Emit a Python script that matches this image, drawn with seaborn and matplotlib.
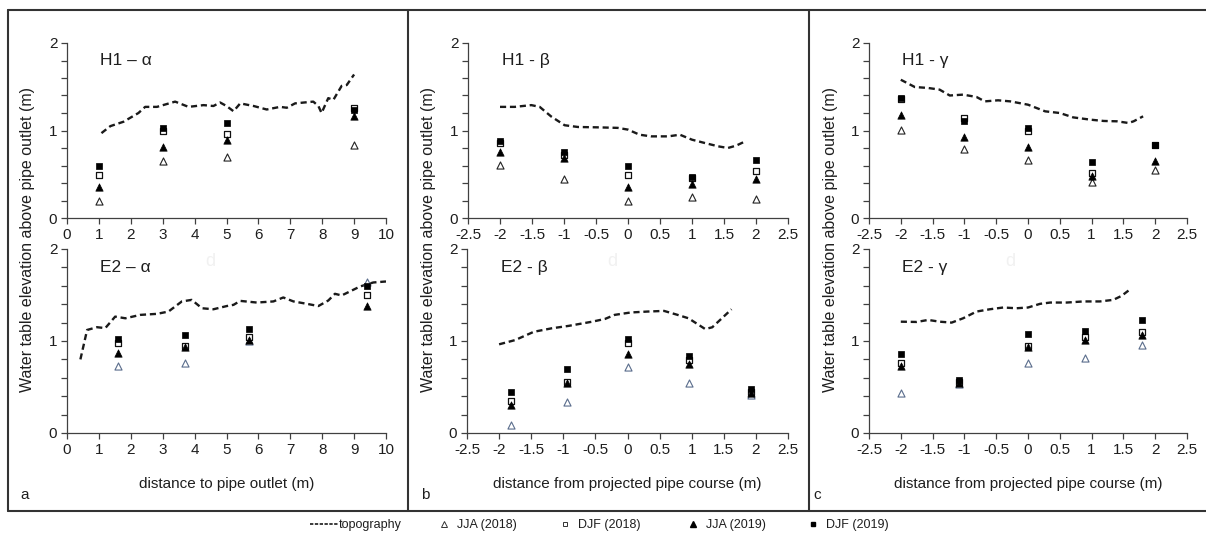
import numpy as np
import pandas as pd
import matplotlib
matplotlib.use("Agg")
import matplotlib.pyplot as plt
import seaborn as sns
from matplotlib.ticker import MultipleLocator, FuncFormatter
from matplotlib.lines import Line2D

sns.set_style("white")
plt.rcParams["font.family"] = ["Liberation Sans", "DejaVu Sans"]

# ---------------- data ----------------
# H1 - alpha (distance to pipe outlet)
h1a_x = [1, 3, 5, 9]
h1a_jja18 = [0.19, 0.655, 0.70, 0.84]
h1a_djf18 = [0.49, 0.99, 0.96, 1.257]
h1a_jja19 = [0.355, 0.81, 0.895, 1.17]
h1a_djf19 = [0.60, 1.03, 1.086, 1.23]
h1a_topo_x = [1.08, 1.36, 1.77, 2.24, 2.45, 2.82, 3.39, 3.81, 4.28, 4.59, 4.8, 5.0, 5.22,
              5.43, 5.85, 6.26, 6.68, 6.89, 7.15, 7.72, 7.88, 7.98, 8.19, 8.35, 8.61, 8.77, 9.0]
h1a_topo_y = [0.97, 1.05, 1.10, 1.20, 1.27, 1.27, 1.33, 1.27, 1.29, 1.28, 1.32, 1.28, 1.22,
              1.31, 1.28, 1.24, 1.27, 1.26, 1.31, 1.33, 1.28, 1.20, 1.37, 1.35, 1.51, 1.52, 1.64]

# E2 - alpha
e2a_x = [1.6, 3.7, 5.7, 9.4]
e2a_jja18 = [0.727, 0.756, 1.0, 1.645]
e2a_djf18 = [0.975, 0.945, 1.047, 1.50]
e2a_jja19 = [0.865, 0.94, 1.01, 1.38]
e2a_djf19 = [1.02, 1.07, 1.127, 1.60]
e2a_topo_x = [0.42, 0.63, 0.94, 1.2, 1.51, 1.83, 2.3, 2.82, 3.18, 3.6, 3.91, 4.23, 4.59, 5.01,
              5.22, 5.43, 5.95, 6.47, 6.78, 7.1, 7.52, 7.88, 8.19, 8.4, 8.61, 9.19, 9.6, 10.0]
e2a_topo_y = [0.80, 1.12, 1.15, 1.14, 1.265, 1.247, 1.284, 1.295, 1.32, 1.43, 1.447, 1.356, 1.345,
              1.38, 1.393, 1.436, 1.418, 1.43, 1.473, 1.43, 1.404, 1.38, 1.44, 1.513, 1.495,
              1.593, 1.636, 1.647]

# H1 - beta (distance from projected pipe course)
h1b_x = [-2, -1, 0, 1, 2]
h1b_jja18 = [0.61, 0.446, 0.19, 0.24, 0.217]
h1b_djf18 = [0.86, 0.72, 0.488, 0.457, 0.541]
h1b_jja19 = [0.754, 0.686, 0.354, 0.389, 0.45]
h1b_djf19 = [0.884, 0.75, 0.59, 0.469, 0.667]
h1b_topo_x = [-2.0, -1.77, -1.51, -1.38, -1.2, -0.99, -0.78, -0.47, -0.16, 0.0, 0.18, 0.36,
              0.63, 0.81, 1.0, 1.2, 1.41, 1.56, 1.69, 1.8]
h1b_topo_y = [1.27, 1.27, 1.29, 1.27, 1.16, 1.06, 1.04, 1.036, 1.03, 1.01, 0.952, 0.933,
              0.933, 0.952, 0.895, 0.857, 0.819, 0.80, 0.827, 0.865]

# E2 - beta
e2b_x = [-1.81, -0.94, 0.0, 0.96, 1.92]
e2b_jja18 = [0.084, 0.342, 0.72, 0.545, 0.41]
e2b_djf18 = [0.35, 0.556, 0.975, 0.79, 0.447]
e2b_jja19 = [0.30, 0.545, 0.858, 0.75, 0.436]
e2b_djf19 = [0.447, 0.698, 1.02, 0.84, 0.473]
e2b_topo_x = [-2.0, -1.75, -1.46, -1.18, -0.92, -0.55, -0.35, -0.2, 0.05, 0.31, 0.57, 0.78,
              0.95, 1.11, 1.21, 1.32, 1.47, 1.62]
e2b_topo_y = [0.964, 1.01, 1.10, 1.138, 1.164, 1.21, 1.24, 1.284, 1.31, 1.32, 1.327, 1.284,
              1.247, 1.175, 1.13, 1.149, 1.247, 1.345]

# H1 - gamma
h1c_x = [-2, -1, 0, 1, 2]
h1c_jja18 = [1.01, 0.789, 0.659, 0.411, 0.552]
h1c_djf18 = [1.36, 1.143, 0.99, 0.514, 0.83]
h1c_jja19 = [1.18, 0.926, 0.808, 0.476, 0.648]
h1c_djf19 = [1.371, 1.105, 1.029, 0.64, 0.838]
h1c_topo_x = [-2.0, -1.78, -1.57, -1.39, -1.23, -1.02, -0.81, -0.68, -0.47, -0.28, 0.0, 0.27,
              0.5, 0.71, 0.98, 1.19, 1.4, 1.58, 1.66, 1.81]
h1c_topo_y = [1.58, 1.497, 1.486, 1.467, 1.40, 1.41, 1.383, 1.333, 1.345, 1.333, 1.295, 1.219,
              1.20, 1.15, 1.124, 1.109, 1.105, 1.086, 1.105, 1.162]

# E2 - gamma
e2c_x = [-2.0, -1.09, 0.0, 0.9, 1.79]
e2c_jja18 = [0.43, 0.53, 0.756, 0.81, 0.953]
e2c_djf18 = [0.764, 0.556, 0.945, 1.04, 1.095]
e2c_jja19 = [0.727, 0.545, 0.94, 1.01, 1.07]
e2c_djf19 = [0.858, 0.575, 1.073, 1.113, 1.225]
e2c_topo_x = [-2.0, -1.75, -1.57, -1.39, -1.2, -1.02, -0.81, -0.6, -0.39, -0.18, 0.0, 0.19,
              0.35, 0.61, 0.87, 1.13, 1.34, 1.47, 1.61]
e2c_topo_y = [1.21, 1.207, 1.229, 1.21, 1.20, 1.247, 1.32, 1.345, 1.364, 1.356, 1.364, 1.404,
              1.418, 1.418, 1.43, 1.43, 1.447, 1.49, 1.564]

series_labels = ["JJA (2018)", "DJF (2018)", "JJA (2019)", "DJF (2019)"]
ylabel = "Water table elevation above pipe outlet (m)"

panels = [
    # (title, x, series, topo x, topo y, xlim, xstep, xlabel, pixel box, lower row)
    ("H1 \u2013 \u03b1", h1a_x, [h1a_jja18, h1a_djf18, h1a_jja19, h1a_djf19], h1a_topo_x, h1a_topo_y,
     (0, 10), 1, None, (67, 386, 43, 218), False),
    ("E2 \u2013 \u03b1", e2a_x, [e2a_jja18, e2a_djf18, e2a_jja19, e2a_djf19], e2a_topo_x, e2a_topo_y,
     (0, 10), 1, "distance to pipe outlet (m)", (67, 386, 249, 433), True),
    ("H1 - \u03b2", h1b_x, [h1b_jja18, h1b_djf18, h1b_jja19, h1b_djf19], h1b_topo_x, h1b_topo_y,
     (-2.5, 2.5), 0.5, None, (468, 788, 43, 218), False),
    ("E2 - \u03b2", e2b_x, [e2b_jja18, e2b_djf18, e2b_jja19, e2b_djf19], e2b_topo_x, e2b_topo_y,
     (-2.5, 2.5), 0.5, "distance from projected pipe course (m)", (467, 788, 249, 433), True),
    ("H1 - \u03b3", h1c_x, [h1c_jja18, h1c_djf18, h1c_jja19, h1c_djf19], h1c_topo_x, h1c_topo_y,
     (-2.5, 2.5), 0.5, None, (869, 1187, 43, 218), False),
    ("E2 - \u03b3", e2c_x, [e2c_jja18, e2c_djf18, e2c_jja19, e2c_djf19], e2c_topo_x, e2c_topo_y,
     (-2.5, 2.5), 0.5, "distance from projected pipe course (m)", (869, 1187, 249, 433), True),
]

W, H = 1206, 540
fig = plt.figure(figsize=(W / 100, H / 100), dpi=100)

AX_COL = "#404040"
TXT_COL = "#1e1e1e"
TOPO_COL = "#1a1a1a"
OPEN_TRI_LOWER = "#5a6d8c"


def fmt_x(v, pos):
    return f"{v:g}".replace("\u2212", "-")


def fmt_y(v, pos):
    return f"{v:g}" if abs(v - round(v)) < 1e-6 else ""


for title, xs, ser, tx, ty, xlim, xstep, xlabel, box, lower in panels:
    x0, x1, y0, y1 = box
    ax = fig.add_axes([x0 / W, 1 - y1 / H, (x1 - x0) / W, (y1 - y0) / H])

    sns.lineplot(x=tx, y=ty, ax=ax, color=TOPO_COL, linewidth=1.7,
                 linestyle=(0, (2.6, 1.6)), sort=False)

    styles = [
        dict(marker="^", color="white", edgecolor=OPEN_TRI_LOWER if lower else "#222222",
             linewidth=0.8, s=26),
        dict(marker="s", color="white", edgecolor="#111111", linewidth=0.9, s=24),
        dict(marker="^", color="black", edgecolor="black", linewidth=0.5, s=28),
        dict(marker="s", color="black", edgecolor="black", linewidth=0.5, s=24),
    ]
    for vals, st in zip(ser, styles):
        sns.scatterplot(x=xs, y=vals, ax=ax, zorder=3, **st)

    ax.set_xlim(*xlim)
    ax.set_ylim(0, 2)
    ax.xaxis.set_major_locator(MultipleLocator(xstep))
    ax.xaxis.set_major_formatter(FuncFormatter(fmt_x))
    ax.yaxis.set_major_locator(MultipleLocator(0.2))
    ax.yaxis.set_major_formatter(FuncFormatter(fmt_y))
    ax.tick_params(axis="both", direction="out", length=4, width=0.9, color=AX_COL,
                   labelsize=11, labelcolor=TXT_COL, pad=3)
    ax.tick_params(axis="x", pad=3.5)
    ax.tick_params(left=True, bottom=True)
    for side in ("top", "right"):
        ax.spines[side].set_visible(False)
    for side in ("left", "bottom"):
        ax.spines[side].set_color(AX_COL)
        ax.spines[side].set_linewidth(0.9)
    ax.set_facecolor("none")
    ax.set_xlabel(xlabel if xlabel else "", fontsize=11, color=TXT_COL, labelpad=14)
    ax.set_ylabel("")
    ax.text(0.105, 0.90, title, transform=ax.transAxes, fontsize=12.5, color=TXT_COL,
            ha="left", va="center")

# shared y labels, one per column
for xc in (28, 429, 830):
    fig.text(xc / W, 1 - 239 / H, ylabel, rotation=90, ha="center", va="center",
             fontsize=11.5, color=TXT_COL)

# faint letters behind the lower panels
for xc in (210, 612, 1010):
    fig.text(xc / W, 1 - 262 / H, "d", ha="center", va="center", fontsize=13,
             color="#f1f1f1", zorder=0)

# panel letters
for xc, lab in ((25, "a"), (425, "b"), (817, "c")):
    fig.text(xc / W, 1 - 495 / H, lab, ha="center", va="center", fontsize=11,
             color=TXT_COL)

# surrounding frame and column dividers
FR = "#333333"
for (xa, ya), (xb, yb) in [((8, 10), (W, 10)), ((8, 511), (W, 511)), ((8, 10), (8, 511)),
                           ((408, 10), (408, 511)), ((809, 10), (809, 511))]:
    fig.add_artist(Line2D([xa / W, xb / W], [1 - ya / H, 1 - yb / H], color=FR,
                          linewidth=1.5, transform=fig.transFigure))

# legend: one entry per slot along the bottom strip
legend_items = [
    (Line2D([], [], color=TOPO_COL, linewidth=1.2, linestyle=(0, (2.0, 0.9))),
     "topography", 310, 2.3, 0.0),
    (Line2D([], [], marker="^", linestyle="none", markerfacecolor="white",
            markeredgecolor="#333333", markersize=4, markeredgewidth=0.7),
     series_labels[0], 437, 1.1, 0.5),
    (Line2D([], [], marker="s", linestyle="none", markerfacecolor="white",
            markeredgecolor="#333333", markersize=3.5, markeredgewidth=0.7),
     series_labels[1], 558, 1.1, 0.5),
    (Line2D([], [], marker="^", linestyle="none", markerfacecolor="black",
            markeredgecolor="black", markersize=4),
     series_labels[2], 686, 1.1, 0.5),
    (Line2D([], [], marker="s", linestyle="none", markerfacecolor="black",
            markeredgecolor="black", markersize=3.5),
     series_labels[3], 806, 1.1, 0.5),
]
for handle, label, xl, hl, tp in legend_items:
    fig.legend([handle], [label], loc="center left",
               bbox_to_anchor=(xl / W, 1 - 525 / H), frameon=False, fontsize=9,
               handlelength=hl, handletextpad=tp, borderpad=0, borderaxespad=0,
               labelcolor=TXT_COL)

fig.savefig("out.png", dpi=100, facecolor="white")
